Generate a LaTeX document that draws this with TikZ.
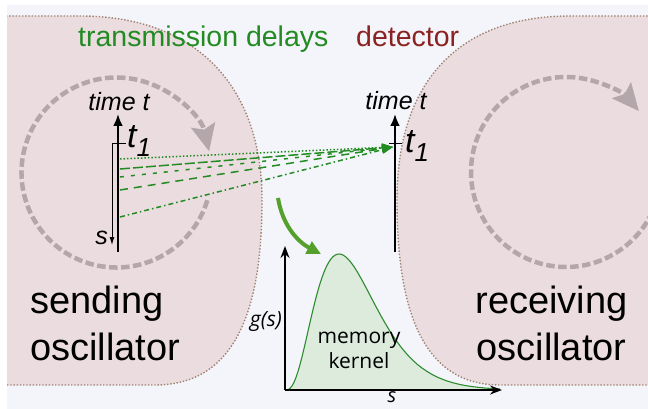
\documentclass[tikz,border=0pt]{standalone}
\usepackage{fontspec}
\setmainfont{Liberation Sans}
\newfontfamily\kernelfont{Open Sans}
\usetikzlibrary{arrows.meta,positioning}

\definecolor{backcolor}{HTML}{F3F5FA}
\definecolor{bodycolor}{HTML}{EBDCDF}
\definecolor{rimcolor}{HTML}{A08270}
\definecolor{phasecolor}{HTML}{B4A7AB}
\definecolor{delaycolor}{HTML}{228B22}
\definecolor{detcolor}{HTML}{8B2222}
\definecolor{kernelfill}{HTML}{DCEBDC}
\definecolor{kernelline}{HTML}{2E8B2E}
\definecolor{pointcolor}{HTML}{55A02D}

\newcommand{\tone}{{\fontsize{34}{34}\selectfont\itshape t\raisebox{-9pt}{\fontsize{26}{26}\selectfont 1}}}

\begin{document}
\begin{tikzpicture}[x=1pt,y=-1pt]
  \tikzset{
    body/.style={fill=bodycolor,draw=rimcolor,line width=1.4pt,dash pattern=on 1.4pt off 1.8pt},
    phase/.style={phasecolor,line width=4.5pt,dash pattern=on 8.5pt off 3.5pt,-{Stealth[length=27pt,width=25pt,inset=5pt,line width=0.5pt]}},
    delay/.style={delaycolor,line width=1.5pt,-{Triangle[length=11pt,width=8pt]}},
    timeaxis/.style={line width=2.8pt,-{Latex[length=12pt,width=10pt]}},
    plotaxis/.style={line width=1.6pt,-{Stealth[length=12pt,width=9pt]}},
    pointer/.style={pointcolor,line width=4pt,-{Triangle[length=14pt,width=13pt]}},
    bigtext/.style={inner sep=0pt,font=\fontsize{38}{47}\selectfont},
    toptext/.style={inner sep=0pt,font=\fontsize{28.5}{34}\selectfont},
    timetext/.style={inner sep=0pt,font=\fontsize{25}{30}\selectfont\itshape},
    kerneltext/.style={inner sep=0pt,font=\kernelfont\fontsize{21}{25}\selectfont}
  }
  \useasboundingbox (0,0) rectangle (648,409);

  % background and the two oscillators
  \begin{scope}
    \clip (7,5) rectangle (648,409);
    \fill[backcolor] (7,5) rectangle (648,409);
    \draw[body] (-10,16) -- (80,16) .. controls (200,16) and (262,90) .. (262,200)
      .. controls (262,305) and (238,385) .. (155,385) -- (-10,385) -- cycle;
    \draw[body] (670,16) -- (570,16) .. controls (460,16) and (397,80) .. (397,200)
      .. controls (397,305) and (420,385) .. (500,385) -- (670,385) -- cycle;
    \draw[phase] (116.5,172.5) ++(17:95) arc[start angle=17,end angle=347,radius=95];
    \draw[phase] (566,172) ++(10:95) arc[start angle=10,end angle=320,radius=95];
  \end{scope}

  \node[toptext,anchor=base west,text=delaycolor] (delaylabel) at (78,47) {transmission delays};
  \node[toptext,anchor=base west,text=detcolor] (detlabel) at (356,47) {detector};

  \node[bigtext,anchor=base west] (sendtop) at (30,313) {sending};
  \node[bigtext,anchor=base west] (sendbot) at (30,360) {oscillator};
  \node[bigtext,anchor=base] (recvtop) at (551.5,313) {receiving};
  \node[bigtext,anchor=base] (recvbot) at (551.5,360) {oscillator};

  % sending time axis
  \coordinate (sendfoot) at (118,252);
  \coordinate (sendhead) at (118,114);
  \draw[timeaxis] (sendfoot) -- (sendhead);
  \node[timetext,anchor=base] (sendtime) at (119,111) {time t};
  \node[inner sep=0pt,anchor=base west] (sendone) at (127,148) {\tone};
  \coordinate (tickend) at (126,144);
  \coordinate (tickcorner) at (112,144);
  \coordinate (sback) at (112,245);
  \draw[line width=1pt,-{Latex[length=8pt,width=5pt]}] (tickend) -- (tickcorner) -- (sback);
  \node[timetext,anchor=east] (slabel) at (108,238) {s};

  % detector time axis
  \coordinate (recvfoot) at (395,252);
  \coordinate (recvhead) at (395,114);
  \draw[timeaxis] (recvfoot) -- (recvhead);
  \draw[line width=1pt] (389,144) -- (402,144);
  \node[timetext,anchor=base] (recvtime) at (396,110) {time t};
  \node[inner sep=0pt,anchor=base west] (recvone) at (405,153) {\tone};

  % delayed signals
  \coordinate (det) at (393,147);
  \coordinate (d1) at (120,159);
  \coordinate (d2) at (120,169);
  \coordinate (d3) at (120,177);
  \coordinate (d4) at (120,190);
  \coordinate (d5) at (120,217);
  \draw[delay,dash pattern=on 1.5pt off 2pt] (d1) -- (det);
  \draw[delay,dash pattern=on 10pt off 3pt] (d2) -- (det);
  \draw[delay,dash pattern=on 4pt off 7pt] (d3) -- (det);
  \draw[delay,dash pattern=on 8pt off 6pt] (d4) -- (det);
  \draw[delay,dash pattern=on 5pt off 3pt on 1.5pt off 3pt] (d5) -- (det);

  % memory kernel
  \coordinate (bendstart) at (278,198);
  \coordinate (bendend) at (321,254);
  \draw[pointer] (bendstart) .. controls (283,228) and (300,243) .. (bendend);
  \coordinate (origin) at (285,390);
  \coordinate (gtop) at (285,246);
  \coordinate (sright) at (502,390);
  \fill[kernelfill] (origin) -- plot[domain=0:215,samples=100] ({285+\x},{390-136*(\x/54)^3*exp(-3*(\x/54-1))}) -- (500,390) -- cycle;
  \draw[kernelline,line width=1.1pt] plot[domain=0:215,samples=100] ({285+\x},{390-136*(\x/54)^3*exp(-3*(\x/54-1))});
  \draw[plotaxis] (origin) -- (gtop);
  \draw[plotaxis] (origin) -- (sright);
  \node[kerneltext,anchor=east,font=\kernelfont\fontsize{21}{25}\selectfont\itshape] (glabel) at (282,322) {g(s)};
  \node[kerneltext,anchor=base,font=\kernelfont\fontsize{20}{24}\selectfont\itshape] (saxis) at (392,402) {s};
  \node[kerneltext,anchor=base] (memlabel) at (359,343) {memory};
  \node[kerneltext,anchor=base] (kernlabel) at (359,368) {kernel};
\end{tikzpicture}
\end{document}
